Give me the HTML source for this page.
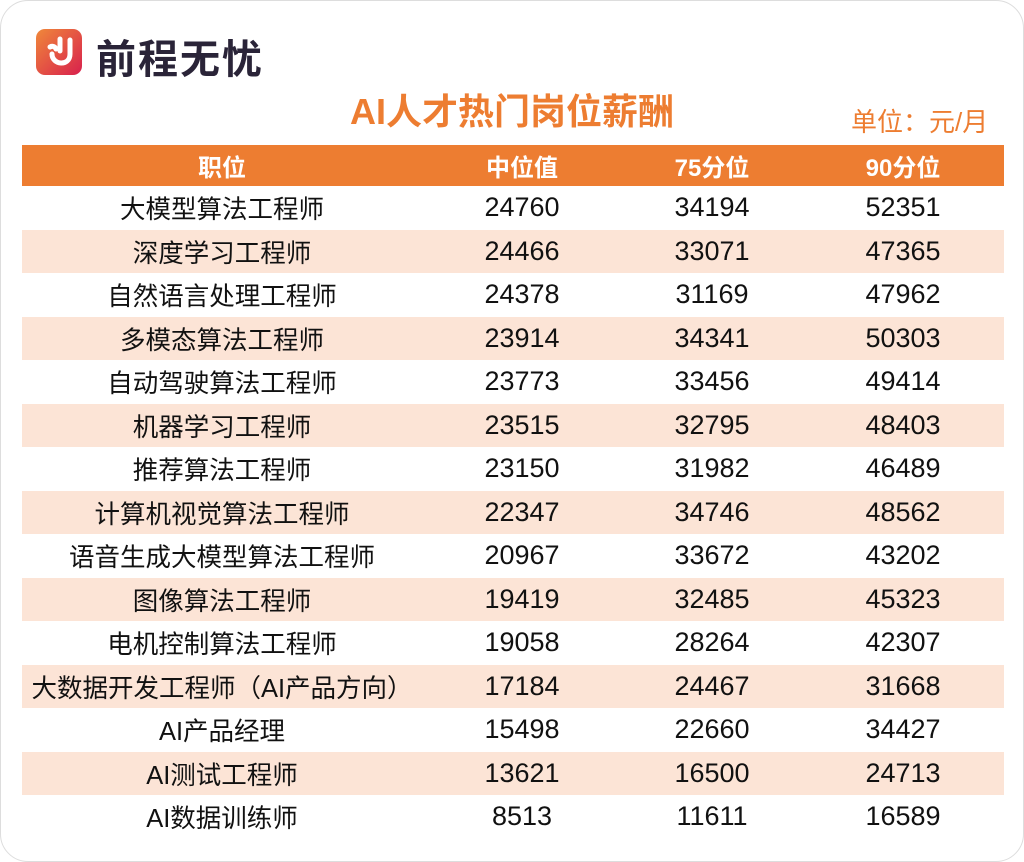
<!DOCTYPE html>
<html><head><meta charset="utf-8"><style>
body{margin:0;width:1024px;height:862px;background:#fff;font-family:"Liberation Sans","Noto Sans CJK SC",sans-serif;position:relative;overflow:hidden}
.frame{position:absolute;left:0;top:0;width:1022px;height:860px;border:1px solid #ddd;border-radius:28px}
.logo{position:absolute;left:36px;top:29px;width:46px;height:46px;border-radius:9px;background:linear-gradient(135deg,#f0883a,#d8204d)}
.brand{position:absolute;left:96px;top:27px;font-size:40px;font-weight:bold;color:#2a2438;letter-spacing:2px}
.title{position:absolute;left:0;width:1024px;top:83px;text-align:center;font-size:36px;font-weight:bold;color:#ed7d31}
.unit{position:absolute;left:851px;top:102px;font-size:26px;color:#ed7d31}
table{position:absolute;left:22px;top:145px;width:982px;border-collapse:collapse}
th{background:#ed7d31;color:#fff;font-size:24px;height:41px;padding:0}
td{font-size:25.5px;height:43.5px;padding:0;text-align:center;color:#111}
td.n{font-size:27px}
tr:nth-child(odd) td{background:#fce4d6}
</style></head><body>
<div class="frame"></div>
<div class="logo"><svg width="46" height="46" viewBox="0 0 46 46"><path d="M14 18 A4 4 0 0 1 20 20 M16 25 C16 36 34 38 34 25 L34 11" stroke="#fff" stroke-width="5" fill="none" stroke-linecap="round"/><path d="M24 10 L24 22" stroke="#fff" stroke-width="5" stroke-linecap="round"/></svg></div>
<div class="brand">前程无忧</div>
<div class="title">AI人才热门岗位薪酬</div>
<div class="unit">单位：元/月</div>
<table>
<tr><th style="width:400px">职位</th><th style="width:200px">中位值</th><th style="width:180px">75分位</th><th>90分位</th></tr>
<tr><td>大模型算法工程师</td><td class="n">24760</td><td class="n">34194</td><td class="n">52351</td></tr>
<tr><td>深度学习工程师</td><td class="n">24466</td><td class="n">33071</td><td class="n">47365</td></tr>
<tr><td>自然语言处理工程师</td><td class="n">24378</td><td class="n">31169</td><td class="n">47962</td></tr>
<tr><td>多模态算法工程师</td><td class="n">23914</td><td class="n">34341</td><td class="n">50303</td></tr>
<tr><td>自动驾驶算法工程师</td><td class="n">23773</td><td class="n">33456</td><td class="n">49414</td></tr>
<tr><td>机器学习工程师</td><td class="n">23515</td><td class="n">32795</td><td class="n">48403</td></tr>
<tr><td>推荐算法工程师</td><td class="n">23150</td><td class="n">31982</td><td class="n">46489</td></tr>
<tr><td>计算机视觉算法工程师</td><td class="n">22347</td><td class="n">34746</td><td class="n">48562</td></tr>
<tr><td>语音生成大模型算法工程师</td><td class="n">20967</td><td class="n">33672</td><td class="n">43202</td></tr>
<tr><td>图像算法工程师</td><td class="n">19419</td><td class="n">32485</td><td class="n">45323</td></tr>
<tr><td>电机控制算法工程师</td><td class="n">19058</td><td class="n">28264</td><td class="n">42307</td></tr>
<tr><td>大数据开发工程师（AI产品方向）</td><td class="n">17184</td><td class="n">24467</td><td class="n">31668</td></tr>
<tr><td>AI产品经理</td><td class="n">15498</td><td class="n">22660</td><td class="n">34427</td></tr>
<tr><td>AI测试工程师</td><td class="n">13621</td><td class="n">16500</td><td class="n">24713</td></tr>
<tr><td>AI数据训练师</td><td class="n">8513</td><td class="n">11611</td><td class="n">16589</td></tr>
</table>
</body></html>
